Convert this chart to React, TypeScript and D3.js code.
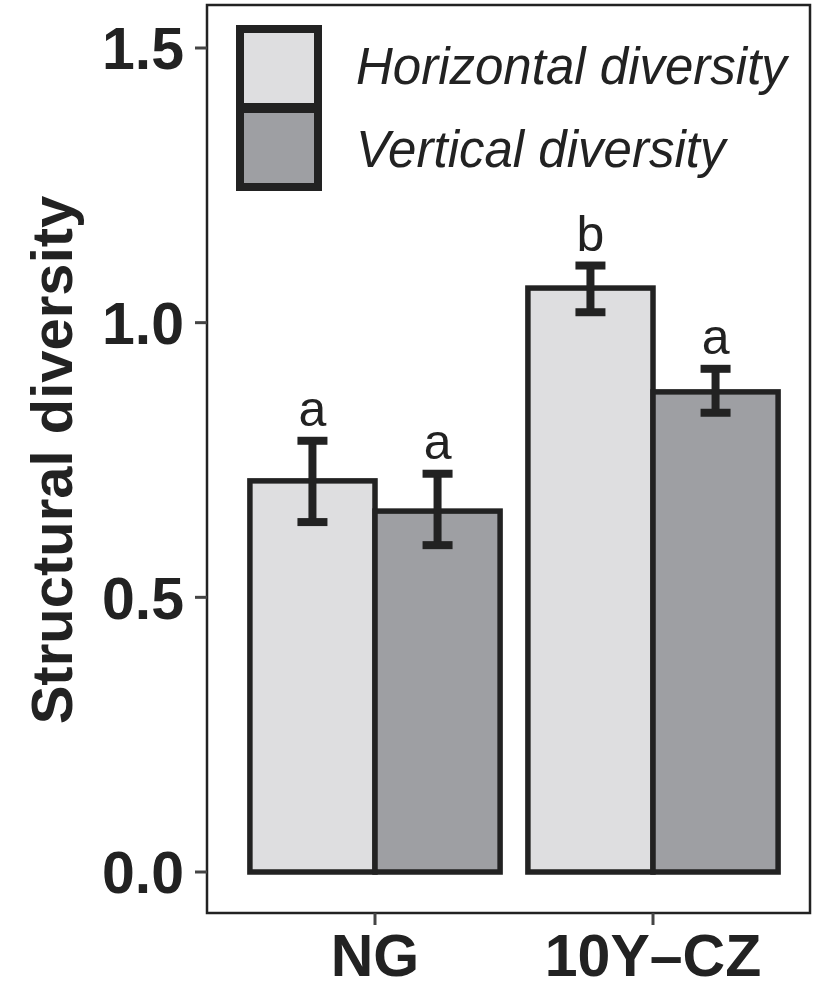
import React from "react";
import * as d3 from "d3";

// values
const groups = ["NG", "10Y\u2013CZ"];
const series = ["Horizontal diversity", "Vertical diversity"];
const means = [
  [0.712, 0.657],
  [1.063, 0.874],
];
const errLow = [
  [0.637, 0.595],
  [1.019, 0.836],
];
const errHigh = [
  [0.785, 0.725],
  [1.104, 0.916],
];
const letters = [
  ["a", "a"],
  ["b", "a"],
];
const yTicks = [0, 0.5, 1.0, 1.5];

const fills = ["#dedee0", "#9e9fa3"];
const ink = "#222222";

const panel = { left: 207, right: 810, top: 5, bottom: 913 };

const App = () => {
  const yScale = d3.scaleLinear().domain([0, 1.5]).range([872, 48]);
  const xScale = d3.scaleLinear().domain([0, 1]).range([375, 653]);
  const barW = (0.9 * (xScale(1) - xScale(0))) / 2;
  const fmt = d3.format(".1f");

  return (
    <svg width={815} height={990} style={{ display: "block", position: "absolute", left: 0, top: 0 }}>
      <rect x={0} y={0} width={815} height={990} fill="#ffffff" />

      {/* bars */}
      {groups.map((g, gi) =>
        series.map((s, si) => {
          const x0 = xScale(gi) - barW + si * barW;
          return (
            <rect
              key={g + s}
              x={x0}
              y={yScale(means[gi][si])}
              width={barW}
              height={yScale(0) - yScale(means[gi][si])}
              fill={fills[si]}
              stroke={ink}
              strokeWidth={5.5}
            />
          );
        })
      )}

      {/* error bars + letters */}
      {groups.map((g, gi) =>
        series.map((s, si) => {
          const cx = xScale(gi) - barW / 2 + si * barW;
          const yl = yScale(errLow[gi][si]);
          const yh = yScale(errHigh[gi][si]);
          return (
            <g key={"e" + g + s}>
              <line x1={cx} x2={cx} y1={yl} y2={yh} stroke={ink} strokeWidth={8} />
              <line x1={cx - 15} x2={cx + 15} y1={yl} y2={yl} stroke={ink} strokeWidth={8} />
              <line x1={cx - 15} x2={cx + 15} y1={yh} y2={yh} stroke={ink} strokeWidth={8} />
              <text
                x={cx}
                y={yh - 15}
                textAnchor="middle"
                fontFamily="Liberation Sans, Arial, sans-serif"
                fontSize={50}
                fill={ink}
              >
                {letters[gi][si]}
              </text>
            </g>
          );
        })
      )}

      {/* panel border */}
      <rect
        x={panel.left}
        y={panel.top}
        width={panel.right - panel.left}
        height={panel.bottom - panel.top}
        fill="none"
        stroke={ink}
        strokeWidth={2.5}
      />

      {/* y axis */}
      {yTicks.map((t) => (
        <g key={"y" + t}>
          <line x1={panel.left - 12} x2={panel.left} y1={yScale(t)} y2={yScale(t)} stroke="#444" strokeWidth={3} />
          <text
            x={184}
            y={yScale(t)}
            dy="0.36em"
            textAnchor="end"
            fontFamily="Liberation Sans, Arial, sans-serif"
            fontWeight="bold"
            fontSize={59}
            fill={ink}
          >
            {fmt(t)}
          </text>
        </g>
      ))}
      <text
        transform={`translate(72, 460) rotate(-90)`}
        textAnchor="middle"
        fontFamily="Liberation Sans, Arial, sans-serif"
        fontWeight="bold"
        fontSize={58}
        fill={ink}
      >
        Structural diversity
      </text>

      {/* x axis */}
      {groups.map((g, gi) => (
        <g key={"x" + g}>
          <line x1={xScale(gi)} x2={xScale(gi)} y1={panel.bottom} y2={panel.bottom + 12} stroke="#444" strokeWidth={3} />
          <text
            x={xScale(gi)}
            y={976}
            textAnchor="middle"
            fontFamily="Liberation Sans, Arial, sans-serif"
            fontWeight="bold"
            fontSize={59}
            fill={ink}
          >
            {g}
          </text>
        </g>
      ))}

      {/* legend */}
      {series.map((s, si) => (
        <g key={"l" + s}>
          <rect x={240} y={29 + si * 80} width={78} height={78} fill={fills[si]} stroke={ink} strokeWidth={8} />
          <text
            x={356}
            y={84 + si * 83}
            fontFamily="Liberation Sans, Arial, sans-serif"
            fontStyle="italic"
            fontSize={51}
            fill={ink}
          >
            {s}
          </text>
        </g>
      ))}
    </svg>
  );
};

export default App;
